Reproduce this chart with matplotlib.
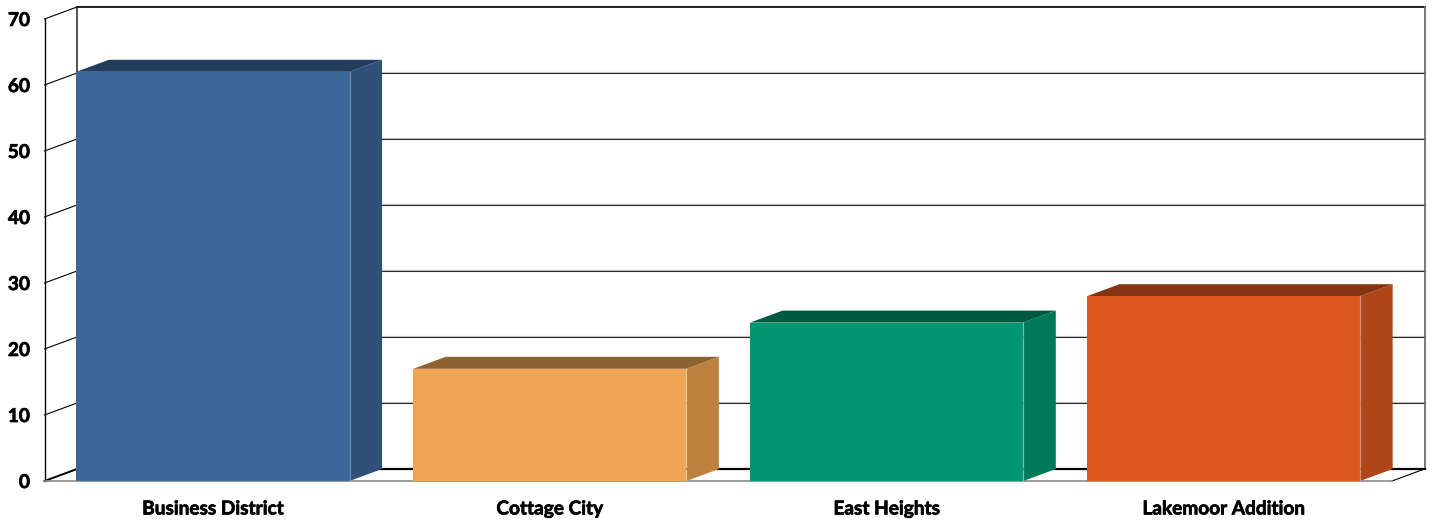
from __future__ import annotations

import matplotlib

matplotlib.use("Agg")

import matplotlib.patheffects as path_effects
import matplotlib.pyplot as plt
from matplotlib.patches import Polygon


categories = ["Business District", "Cottage City", "East Heights", "Lakemoor Addition"]
values = [62, 17, 24, 28]
y_ticks = [0, 10, 20, 30, 40, 50, 60, 70]

front_colors = ["#3B6698", "#F0A555", "#009672", "#DC581F"]
side_colors = ["#2F5079", "#BE8240", "#007859", "#AE4619"]
top_colors = ["#233D5C", "#8F6231", "#005A42", "#853413"]

FIG_W, FIG_H = 1432, 520
PLOT_LEFT, PLOT_RIGHT = 44.5, 1392
PLOT_TOP, PLOT_BOTTOM = 19, 481

BAR_WIDTH = 0.811
# depth of the fake 3D box, in data units
DEPTH_X = 32.5 / ((PLOT_RIGHT - PLOT_LEFT) / len(categories))
DEPTH_Y = 12 / ((PLOT_BOTTOM - PLOT_TOP) / y_ticks[-1])


def draw_walls(ax: plt.Axes) -> None:
    x0, x1 = -0.5, len(categories) - 0.5
    y_max = y_ticks[-1]

    for tick in y_ticks[1:]:
        # soft grey shadow just above each wall gridline
        ax.plot(
            [x0 + DEPTH_X, x1 + DEPTH_X],
            [tick + DEPTH_Y + 0.16] * 2,
            color="#C8C8C8",
            lw=0.9,
            zorder=1,
            clip_on=False,
        )
        ax.plot(
            [x0 + DEPTH_X, x1 + DEPTH_X],
            [tick + DEPTH_Y] * 2,
            color="#2B2B2B" if tick != y_max else "black",
            lw=0.8 if tick != y_max else 1.2,
            zorder=1.1,
            clip_on=False,
        )
        ax.plot(
            [x0, x0 + DEPTH_X],
            [tick, tick + DEPTH_Y],
            color="black",
            lw=0.8,
            zorder=1.1,
            clip_on=False,
        )

    # back wall verticals, front left axis line
    ax.plot([x0 + DEPTH_X] * 2, [DEPTH_Y, y_max + DEPTH_Y], color="#222222", lw=1.1, zorder=1.1, clip_on=False)
    ax.plot([x1 + DEPTH_X] * 2, [DEPTH_Y, y_max + DEPTH_Y], color="#6E6E6E", lw=1.3, zorder=1.1, clip_on=False)
    ax.plot([x0, x0], [0, y_max], color="black", lw=1.0, zorder=1.1, clip_on=False)

    # floor
    ax.plot([x0 + DEPTH_X, x1 + DEPTH_X], [DEPTH_Y, DEPTH_Y], color="black", lw=1.6, zorder=1.2, clip_on=False)
    ax.plot([x0, x0 + DEPTH_X], [0, DEPTH_Y], color="black", lw=1.4, zorder=1.2, clip_on=False)
    ax.plot([x1, x1 + DEPTH_X], [0, DEPTH_Y], color="black", lw=0.8, zorder=1.2, clip_on=False)
    ax.plot([x0, x1], [0, 0], color="#8A8A8A", lw=1.2, zorder=1.2, clip_on=False)


def draw_bar(ax: plt.Axes, idx: int) -> None:
    value = values[idx]
    left = idx - BAR_WIDTH / 2
    right = idx + BAR_WIDTH / 2

    side = Polygon(
        [
            (right, 0),
            (right + DEPTH_X, DEPTH_Y),
            (right + DEPTH_X, value + DEPTH_Y),
            (right, value),
        ],
        facecolor=side_colors[idx],
        edgecolor="none",
        zorder=3,
        clip_on=False,
    )
    top = Polygon(
        [
            (left, value),
            (left + DEPTH_X, value + DEPTH_Y),
            (right + DEPTH_X, value + DEPTH_Y),
            (right, value),
        ],
        facecolor=top_colors[idx],
        edgecolor="none",
        zorder=3,
        clip_on=False,
    )
    ax.add_patch(side)
    ax.add_patch(top)
    ax.bar(idx, value, width=BAR_WIDTH, color=front_colors[idx], zorder=4, clip_on=False)
    # thin light edge where front and side faces meet
    ax.plot([right, right], [0, value], color="#FFFFFF", alpha=0.3, lw=0.9, zorder=5, clip_on=False)


def main() -> None:
    plt.rcParams["font.family"] = ["Lato", "DejaVu Sans"]

    fig = plt.figure(figsize=(FIG_W / 100, FIG_H / 100), dpi=100, facecolor="white")
    ax = fig.add_axes(
        [
            PLOT_LEFT / FIG_W,
            1 - PLOT_BOTTOM / FIG_H,
            (PLOT_RIGHT - PLOT_LEFT) / FIG_W,
            (PLOT_BOTTOM - PLOT_TOP) / FIG_H,
        ]
    )
    ax.set_xlim(-0.5, len(categories) - 0.5)
    ax.set_ylim(0, y_ticks[-1])
    for spine in ax.spines.values():
        spine.set_visible(False)

    draw_walls(ax)
    for idx in range(len(categories)):
        draw_bar(ax, idx)

    ax.set_xticks(range(len(categories)), categories)
    ax.set_yticks(y_ticks)
    ax.tick_params(axis="both", length=0)
    ax.tick_params(axis="x", pad=14)
    ax.tick_params(axis="y", pad=10.5)
    # Lato Bold is a bit lighter than the original face, so thicken it slightly
    heavier = [path_effects.withStroke(linewidth=0.5, foreground="black")]
    for label in ax.get_xticklabels() + ax.get_yticklabels():
        label.set_fontsize(13.7)
        label.set_fontweight("bold")
        label.set_color("black")
        label.set_path_effects(heavier)

    fig.savefig("out.png", dpi=100)
    plt.close(fig)


if __name__ == "__main__":
    main()
